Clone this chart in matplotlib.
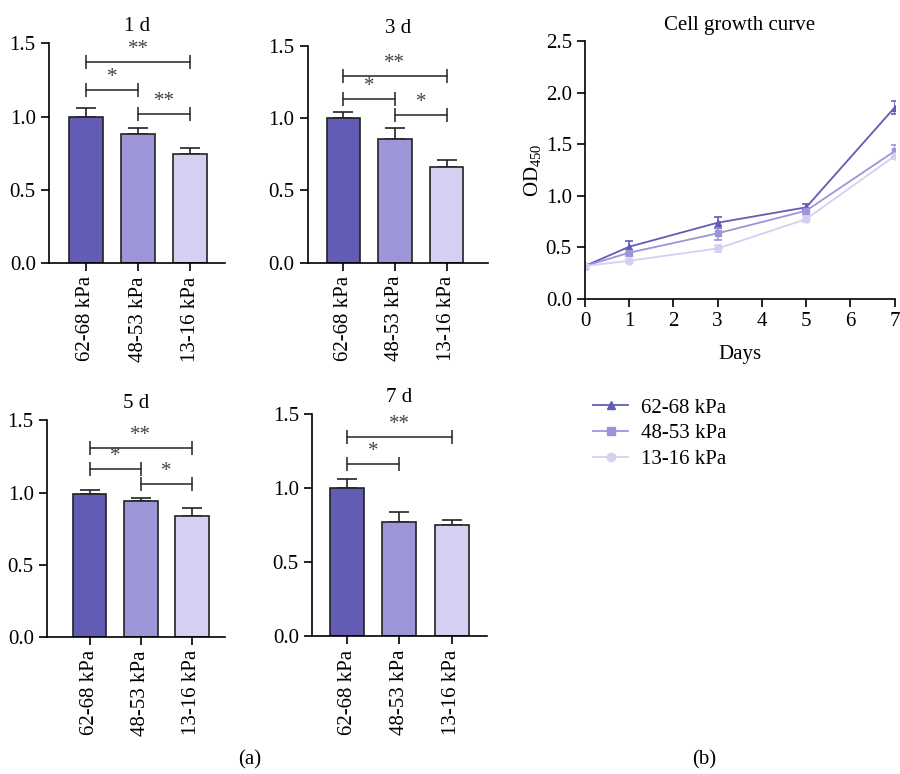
import numpy as np
import matplotlib
matplotlib.use('Agg')
import matplotlib.pyplot as plt
from matplotlib.lines import Line2D

plt.rcParams['font.family'] = ['Liberation Serif', 'DejaVu Serif']
plt.rcParams['mathtext.fontset'] = 'custom'
plt.rcParams['mathtext.rm'] = 'Liberation Serif'

groups = ['62-68 kPa', '48-53 kPa', '13-16 kPa']
colors = ['#625cb4', '#9c95d8', '#d6cff1']

# bar panels (a): relative values and upper error
days_titles = ['1 d', '3 d', '5 d', '7 d']
bar_means = [[1.00, 0.883, 0.746],
             [1.00, 0.857, 0.659],
             [0.993, 0.940, 0.840],
             [0.998, 0.768, 0.748]]
bar_err = [[0.06, 0.041, 0.039],
           [0.04, 0.073, 0.051],
           [0.022, 0.025, 0.054],
           [0.065, 0.068, 0.038]]
# significance: (i, j, height, label)
sig = [[(0, 2, 1.37, '**'), (0, 1, 1.18, '*'), (1, 2, 1.02, '**')],
       [(0, 2, 1.29, '**'), (0, 1, 1.135, '*'), (1, 2, 1.025, '*')],
       [(0, 2, 1.31, '**'), (0, 1, 1.163, '*'), (1, 2, 1.062, '*')],
       [(0, 2, 1.347, '**'), (0, 1, 1.16, '*')]]

# growth curve (b)
days = [0, 1, 3, 5, 7]
od_hi = [0.32, 0.507, 0.74, 0.889, 1.857]
od_hi_err = [0.01, 0.06, 0.055, 0.03, 0.065]
od_mid = [0.32, 0.449, 0.637, 0.856, 1.434]
od_mid_err = [0.01, 0.03, 0.06, 0.03, 0.06]
od_lo = [0.32, 0.371, 0.49, 0.775, 1.386]
od_lo_err = [0.01, 0.02, 0.03, 0.03, 0.03]

fig = plt.figure(figsize=(9, 7.74), dpi=100)

bar_axes = [[0.0544, 0.660, 0.1956, 0.284, -0.71, 2.67],
            [0.342, 0.6606, 0.200, 0.280, -0.69, 2.80],
            [0.0522, 0.177, 0.198, 0.280, -0.84, 2.65],
            [0.3467, 0.178, 0.194, 0.287, -0.67, 2.67]]

fs = 15
for k in range(4):
    l, b, w, h, x0, x1 = bar_axes[k]
    ax = fig.add_axes([l, b, w, h])
    x = np.arange(3)
    ax.bar(x, bar_means[k], width=0.65, color=colors, edgecolor='#222222',
           linewidth=1.2, zorder=2)
    ax.errorbar(x, bar_means[k], yerr=[[0, 0, 0], bar_err[k]], fmt='none',
                ecolor='#222222', elinewidth=1.2, capsize=7, capthick=1.2, zorder=1)
    for i, j, yv, lab in sig[k]:
        ax.plot([i, j], [yv, yv], color='#333333', lw=1.2, marker='|',
                markersize=10, markeredgewidth=1.2)
        ax.text((i + j) / 2, yv + 0.02, lab, ha='center', va='bottom',
                fontsize=fs, color='#444444')
    ax.set_xlim(x0, x1)
    ax.set_ylim(0, 1.5)
    ax.set_yticks([0, 0.5, 1.0, 1.5])
    ax.set_yticklabels(['0.0', '0.5', '1.0', '1.5'])
    ax.set_xticks(x)
    ax.set_xticklabels(groups, rotation=90)
    ax.spines['top'].set_visible(False)
    ax.spines['right'].set_visible(False)
    ax.spines['left'].set_linewidth(1.2)
    ax.spines['bottom'].set_linewidth(1.2)
    ax.tick_params(labelsize=fs, width=1.2, length=6, direction='out')
    ax.set_title(days_titles[k], fontsize=fs, pad=9)

# growth curve
ax = fig.add_axes([0.65, 0.6137, 0.344, 0.333])
series = [(od_hi, od_hi_err, '^'), (od_mid, od_mid_err, 's'), (od_lo, od_lo_err, 'o')]
for (v, e, m), c in zip(series, colors):
    ax.errorbar(days, v, yerr=e, color=c, marker=m, markersize=5, lw=1.3,
                capsize=3, elinewidth=1.2, capthick=1.2)
ax.set_xlim(0, 7)
ax.set_ylim(0, 2.5)
ax.set_xticks(range(8))
ax.set_yticks([0, 0.5, 1.0, 1.5, 2.0, 2.5])
ax.set_yticklabels(['0.0', '0.5', '1.0', '1.5', '2.0', '2.5'])
ax.spines['top'].set_visible(False)
ax.spines['right'].set_visible(False)
ax.spines['left'].set_linewidth(1.2)
ax.spines['bottom'].set_linewidth(1.2)
ax.tick_params(labelsize=fs, width=1.2, length=6, direction='out')
ax.set_title('Cell growth curve', fontsize=fs, pad=8)
ax.set_xlabel('Days', fontsize=fs, labelpad=10)
ax.set_ylabel('OD$_{450}$', fontsize=fs, labelpad=1)

handles = [Line2D([], [], color=c, marker=m, markersize=6, lw=1.3)
           for c, m in zip(colors, ['^', 's', 'o'])]
fig.legend(handles, groups, loc='upper left', bbox_to_anchor=(0.638, 0.51),
           frameon=False, fontsize=fs, handlelength=1.7, handletextpad=0.6,
           labelspacing=0.3)

fig.text(0.277, 0.012, '(a)', ha='center', fontsize=fs)
fig.text(0.782, 0.012, '(b)', ha='center', fontsize=fs)

fig.savefig('out.png', dpi=100)
